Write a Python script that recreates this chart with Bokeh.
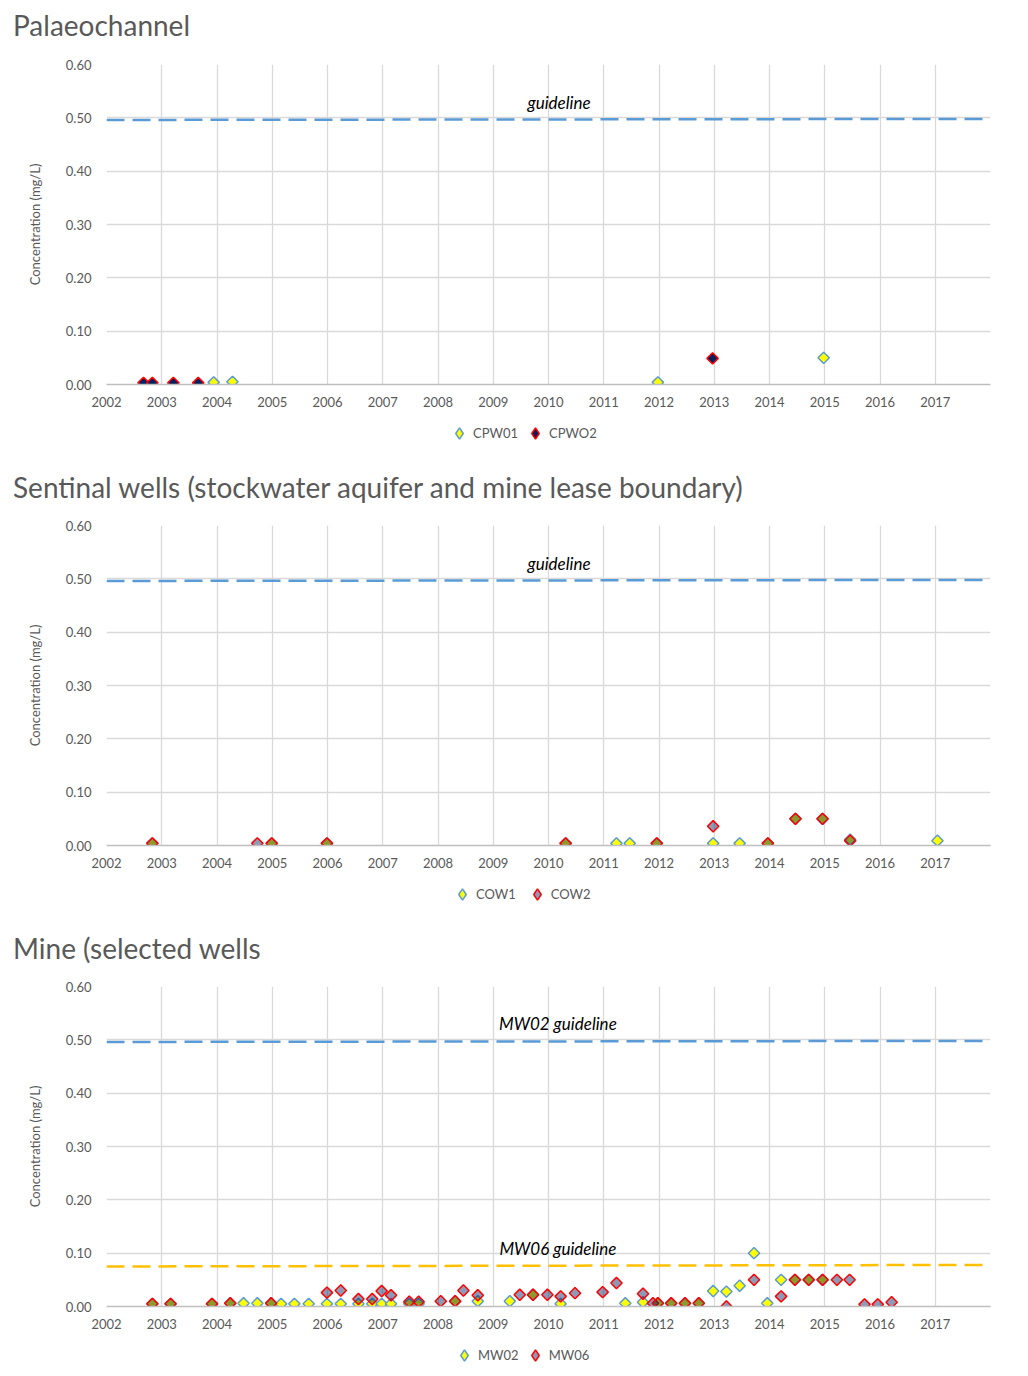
import math
from bokeh.plotting import figure
from bokeh.layouts import column
from bokeh.models import (Range1d, FixedTicker, Legend, LegendItem, NumeralTickFormatter, Div)
from bokeh.core.properties import value
from bokeh.embed import file_html
from bokeh.resources import INLINE

FONT = "Lato"
GREY = "#595959"
W = 1028

year_ticks = list(range(2002, 2018))
y_ticks = [0.0, 0.1, 0.2, 0.3, 0.4, 0.5, 0.6]

titles = ["Palaeochannel",
          "Sentinal wells (stockwater aquifer and mine lease boundary)",
          "Mine (selected wells"]

# ---------------- Panel 1: Palaeochannel ----------------
cpw01_x = [2003.94, 2004.28, 2011.98, 2014.98]
cpw01_y = [0.004, 0.005, 0.004, 0.050]
cpwo2_x = [2002.67, 2002.83, 2003.21, 2003.66, 2012.97]
cpwo2_y = [0.003, 0.003, 0.003, 0.003, 0.049]

# ---------------- Panel 2: Sentinal wells ----------------
cow1_x = [2002.83, 2004.99, 2005.99, 2010.31, 2011.23, 2011.47, 2011.96, 2012.98,
          2013.46, 2013.97, 2014.47, 2014.96, 2015.46, 2017.04]
cow1_y = [0.004, 0.004, 0.004, 0.004, 0.004, 0.004, 0.004, 0.004,
          0.004, 0.004, 0.050, 0.050, 0.011, 0.009]
cow2_x = [2002.83, 2004.73, 2004.99, 2005.99, 2010.31, 2011.96, 2012.98, 2013.97,
          2014.47, 2014.96, 2015.46]
cow2_y = [0.004, 0.004, 0.004, 0.004, 0.004, 0.004, 0.036, 0.004,
          0.050, 0.050, 0.009]

# ---------------- Panel 3: Mine (selected wells) ----------------
mw02_x = [2002.83, 2003.16, 2003.91, 2004.24, 2004.48, 2004.73, 2004.98, 2005.16,
          2005.40, 2005.66, 2005.99, 2006.24, 2006.56, 2006.81, 2006.98, 2007.15,
          2007.48, 2007.65, 2008.31, 2008.72, 2009.30, 2009.72, 2010.22, 2011.39,
          2011.71, 2011.98, 2012.22, 2012.47, 2012.72, 2012.98, 2013.22, 2013.46,
          2013.72, 2013.96, 2014.21, 2014.46, 2014.71, 2014.96]
mw02_y = [0.005, 0.005, 0.005, 0.006, 0.006, 0.006, 0.006, 0.005,
          0.005, 0.005, 0.005, 0.005, 0.005, 0.005, 0.005, 0.005,
          0.005, 0.005, 0.010, 0.010, 0.010, 0.022, 0.005, 0.006,
          0.008, 0.006, 0.006, 0.006, 0.006, 0.029, 0.028, 0.039,
          0.100, 0.006, 0.050, 0.050, 0.050, 0.050]
mw06_x = [2002.83, 2003.16, 2003.91, 2004.24, 2004.98, 2005.99, 2006.24, 2006.56,
          2006.81, 2006.98, 2007.15, 2007.48, 2007.65, 2008.05, 2008.31, 2008.46,
          2008.72, 2009.48, 2009.72, 2009.98, 2010.22, 2010.48, 2010.98, 2011.23,
          2011.71, 2011.89, 2011.98, 2012.22, 2012.47, 2012.72, 2013.22, 2013.72,
          2014.21, 2014.46, 2014.71, 2014.96, 2015.22, 2015.45, 2015.72, 2015.96,
          2016.21]
mw06_y = [0.005, 0.005, 0.005, 0.006, 0.006, 0.026, 0.030, 0.014,
          0.014, 0.029, 0.021, 0.009, 0.009, 0.010, 0.010, 0.030,
          0.021, 0.022, 0.022, 0.022, 0.019, 0.025, 0.027, 0.044,
          0.024, 0.006, 0.006, 0.006, 0.006, 0.006, 0.000, 0.050,
          0.019, 0.050, 0.050, 0.050, 0.050, 0.050, 0.004, 0.004,
          0.008]

# guidelines (start/end of the dashed lines)
guide_x = [2002, 2018]
guide_y = [0.496, 0.498]
mw06_guide_y = [0.075, 0.078]

YELLOW = dict(fill_color="#FFFF00", line_color="#5B9BD5", line_width=1.5)
NAVY = dict(fill_color="#002060", fill_alpha=1.0, line_color="#FF0000", line_width=1.5)
GREYRED = dict(fill_color="#002060", fill_alpha=0.45, line_color="#FF0000", line_width=1.5)


def title_div(text, height, pad_top):
    return Div(text=text, width=W, height=height, margin=0,
               styles={"padding-left": "13px", "padding-top": f"{pad_top}px",
                       "box-sizing": "border-box", "font-family": "Lato",
                       "font-size": "28px", "line-height": "34px", "color": GREY,
                       "white-space": "nowrap", "background": "white"})


def legend_strip(height, items, lx, ly, spacing):
    # legend proxies: they use the series' own values, which fall outside this strip's
    # ranges, so only the legend entries are visible
    s = figure(width=W, height=height, output_backend="svg", toolbar_location=None,
               x_range=Range1d(0, 884), y_range=Range1d(0, height),
               x_axis_type=None, y_axis_type=None,
               min_border_left=106, min_border_right=38, min_border_top=0,
               min_border_bottom=0)
    s.outline_line_color = None
    s.grid.visible = False
    s.background_fill_color = "white"
    s.border_fill_color = "white"
    rends = []
    for label, (xs, ys), style in items:
        r = s.scatter(x=xs[:1], y=ys[:1], marker="diamond", size=8, **style)
        rends.append((label, r))
    leg = Legend(items=[LegendItem(label=l, renderers=[r]) for l, r in rends],
                 orientation="horizontal", location=(lx, ly))
    leg.border_line_color = None
    leg.background_fill_alpha = 0
    leg.label_text_font = FONT
    leg.label_text_font_size = "13px"
    leg.label_text_color = GREY
    leg.glyph_width = 28
    leg.glyph_height = 28
    leg.label_standoff = 0
    leg.spacing = spacing
    leg.padding = 0
    leg.margin = 0
    s.add_layout(leg, "center")
    return s


def make_panel():
    p = figure(frame_width=884, frame_height=320, output_backend="svg",
               toolbar_location=None,
               x_range=Range1d(2002, 2018), y_range=Range1d(0, 0.6),
               min_border_left=106, min_border_right=38,
               min_border_top=16, min_border_bottom=30)
    p.outline_line_color = None
    p.background_fill_color = "white"
    p.border_fill_color = "white"

    p.xaxis.ticker = FixedTicker(ticks=year_ticks)
    p.xgrid.ticker = FixedTicker(ticks=year_ticks)
    p.yaxis.ticker = FixedTicker(ticks=y_ticks)
    p.yaxis.formatter = NumeralTickFormatter(format="0.00")
    for ax in (p.xaxis[0], p.yaxis[0]):
        ax.major_tick_line_color = None
        ax.minor_tick_line_color = None
        ax.major_label_text_font = FONT
        ax.major_label_text_font_size = "13px"
        ax.major_label_text_color = GREY
    p.xaxis.axis_line_color = "#BFBFBF"
    p.xaxis.axis_line_width = 1.5
    p.xaxis.major_label_standoff = 6
    p.yaxis.axis_line_color = None
    p.yaxis.major_label_standoff = 9
    p.yaxis.axis_label = "Concentration (mg/L)"
    p.yaxis.axis_label_text_font = FONT
    p.yaxis.axis_label_text_font_size = "13px"
    p.yaxis.axis_label_text_font_style = "normal"
    p.yaxis.axis_label_text_color = GREY
    p.yaxis.axis_label_standoff = 20
    p.grid.grid_line_color = "#D9D9D9"
    p.grid.grid_line_width = 1.3
    return p


def guideline(p, ys, color, label, lx, ly):
    p.line(guide_x, ys, line_color=color, line_width=2.5, line_dash="18 8")
    p.text(x=[lx], y=[ly], text=[label], text_font=value(FONT), text_font_size="17px",
           text_font_style="italic", text_color="black", text_align="center",
           text_baseline="middle")


def points(p, x, y, style):
    return p.scatter(x, y, marker="square", angle=math.pi / 4, size=8, **style)


t1 = title_div(titles[0], 48, 8)
p1 = make_panel()
guideline(p1, guide_y, "#5B9BD5", "guideline", 2010.19, 0.529)
points(p1, cpw01_x, cpw01_y, YELLOW)
points(p1, cpwo2_x, cpwo2_y, NAVY)
l1 = legend_strip(49, [("CPW01", (cpw01_x, cpw01_y), YELLOW),
                       ("CPWO2", (cpwo2_x, cpwo2_y), NAVY)], 339, 16, 3)

t2 = title_div(titles[1], 46, 7)
p2 = make_panel()
guideline(p2, guide_y, "#5B9BD5", "guideline", 2010.19, 0.529)
points(p2, cow1_x, cow1_y, YELLOW)
points(p2, cow2_x, cow2_y, GREYRED)
l2 = legend_strip(48, [("COW1", (cow1_x, cow1_y), YELLOW),
                       ("COW2", (cow2_x, cow2_y), GREYRED)], 342, 15, 7)

t3 = title_div(titles[2], 47, 8)
p3 = make_panel()
guideline(p3, guide_y, "#5B9BD5", "MW02 guideline", 2010.17, 0.531)
guideline(p3, mw06_guide_y, "#FFC000", "MW06 guideline", 2010.17, 0.108)
points(p3, mw02_x, mw02_y, YELLOW)
points(p3, mw06_x, mw06_y, GREYRED)
l3 = legend_strip(40, [("MW02", (mw02_x, mw02_y), YELLOW),
                       ("MW06", (mw06_x, mw06_y), GREYRED)], 344, 7, 2)

layout = column(t1, p1, l1, t2, p2, l2, t3, p3, l3, spacing=0)
open("out.html", "w").write(file_html(layout, INLINE))
